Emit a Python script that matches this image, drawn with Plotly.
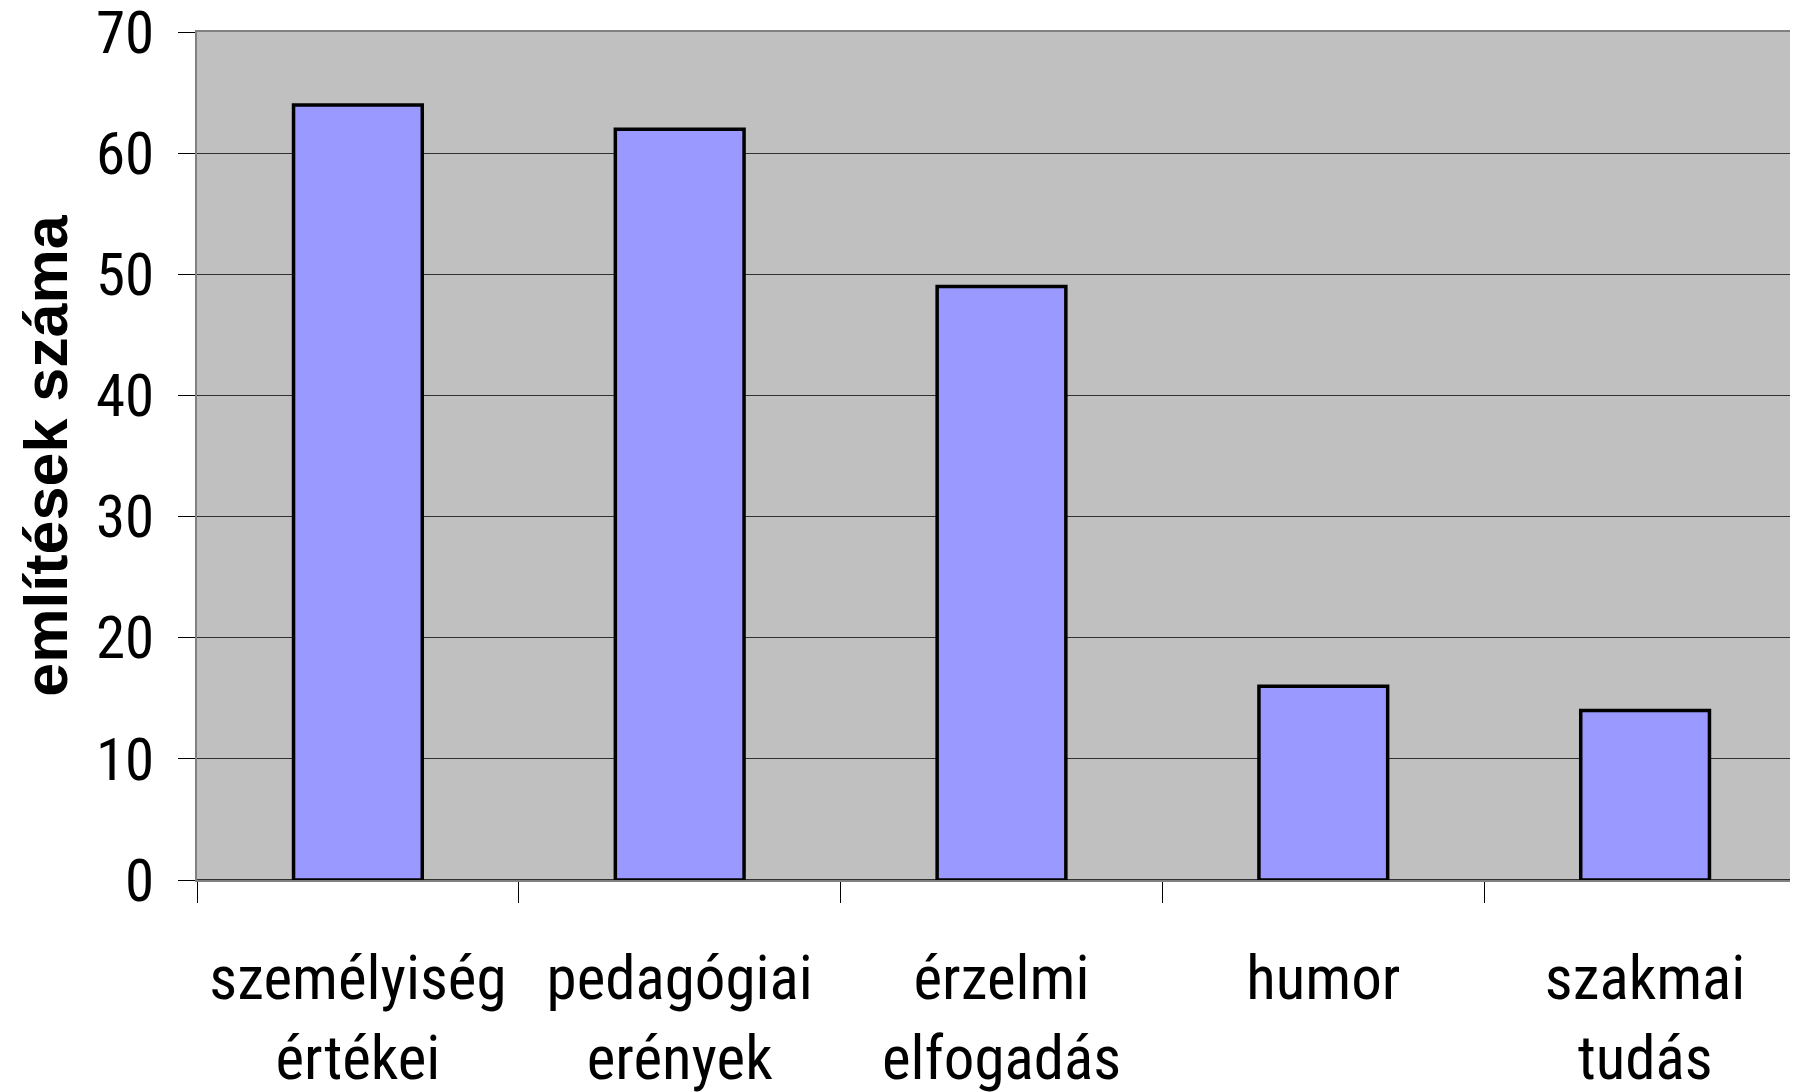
import plotly.graph_objects as go

categories = ["személyiség<br>értékei", "pedagógiai<br>erények", "érzelmi<br>elfogadás", "humor", "szakmai<br>tudás"]
values = [64, 62, 49, 16, 14]
y_ticks = [0, 10, 20, 30, 40, 50, 60, 70]
y_title = "említések száma"

narrow = "Liberation Sans Narrow, Arial Narrow, Roboto Condensed, sans-serif"

fig = go.Figure(
    go.Bar(
        x=categories,
        y=values,
        marker=dict(color="#9999FF", line=dict(color="black", width=3.5)),
        width=0.4,
    )
)

# page body has an 8px margin; margins below compensate for it
fig.update_layout(
    width=1798,
    height=1092,
    margin=dict(l=189, r=0, t=24, b=220),
    paper_bgcolor="white",
    plot_bgcolor="#C0C0C0",
    showlegend=False,
    bargap=0.6,
)

fig.update_xaxes(
    automargin=False,
    showline=True,
    linecolor="#808080",
    linewidth=2,
    mirror=True,
    ticks="outside",
    ticklen=21,
    tickcolor="black",
    tickwidth=1,
    tickson="boundaries",
    showgrid=False,
    tickfont=dict(family=narrow, size=61, color="black"),
    ticklabelstandoff=44,
    ticklabeloverflow="allow",
)

fig.update_yaxes(
    automargin=False,
    range=[0, 70.02],
    tickvals=y_ticks,
    showline=True,
    linecolor="#808080",
    linewidth=2,
    ticks="outside",
    ticklen=17,
    tickcolor="black",
    tickwidth=1,
    showgrid=True,
    gridcolor="#303030",
    gridwidth=1,
    zeroline=True,
    zerolinecolor="#303030",
    zerolinewidth=2,
    tickfont=dict(family=narrow, size=59, color="black"),
    ticklabelstandoff=12,
    ticklabeloverflow="allow",
    title=dict(
        text=y_title,
        font=dict(family="Liberation Sans, Arial, sans-serif", size=61, color="black", weight="bold"),
        standoff=9,
    ),
)

fig.write_html("out.html")
